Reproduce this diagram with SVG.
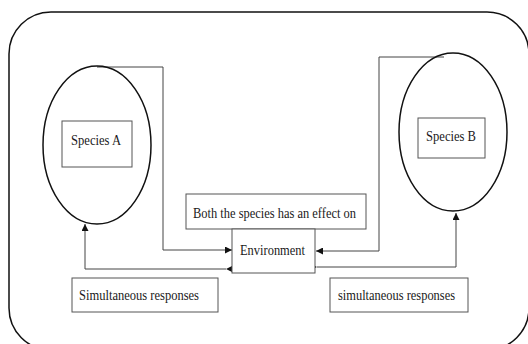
<svg xmlns="http://www.w3.org/2000/svg" width="528" height="344" viewBox="0 0 528 344">
<style>
.frame{fill:none;stroke:#111;stroke-width:1.5}
.ell{fill:none;stroke:#111;stroke-width:1.5}
.box{fill:#fff;stroke:#555;stroke-width:1}
.con{fill:none;stroke:#444;stroke-width:1}
.t{font-family:'Liberation Serif','Times New Roman',serif;font-size:15px;fill:#1a1a1a}
</style>
<defs>
<marker id="ah" viewBox="0 0 10 10" refX="10" refY="5" markerWidth="7" markerHeight="7" orient="auto" markerUnits="userSpaceOnUse">
<path d="M0,0 L10,5 L0,10 Z" fill="#111"/>
</marker>
</defs>
<rect class="frame" x="9" y="12" width="520" height="338" rx="42" ry="42"/>
<g id="connectors">
<path class="con" d="M97,67 H163 V250 H232" marker-end="url(#ah)"/>
<path class="con" d="M444,57 H379 V251 H316" marker-end="url(#ah)"/>
<path class="con" d="M226,269 H85 V224" marker-start="url(#ah)" marker-end="url(#ah)"/>
<path class="con" d="M317,267 H456 V213" marker-start="url(#ah)" marker-end="url(#ah)"/>
</g>
<g id="speciesA">
<ellipse class="ell" cx="97" cy="145" rx="54" ry="79"/>
<rect class="box" x="62" y="121" width="70" height="46"/>
<text class="t" x="71" y="145" textLength="50" lengthAdjust="spacingAndGlyphs">Species A</text>
</g>
<g id="speciesB">
<ellipse class="ell" cx="453" cy="132" rx="54" ry="79"/>
<rect class="box" x="418" y="118" width="67" height="40"/>
<text class="t" x="426" y="141" textLength="50" lengthAdjust="spacingAndGlyphs">Species B</text>
</g>
<g id="effect">
<rect class="box" x="186" y="194" width="180" height="35"/>
<text class="t" x="193" y="218" textLength="163" lengthAdjust="spacingAndGlyphs">Both the species has an effect on</text>
</g>
<g id="environment">
<rect class="box" x="232" y="229" width="83" height="44"/>
<text class="t" x="240" y="255" textLength="65" lengthAdjust="spacingAndGlyphs">Environment</text>
</g>
<g id="responsesA">
<rect class="box" x="72" y="278" width="146" height="34"/>
<text class="t" x="79" y="300" textLength="120" lengthAdjust="spacingAndGlyphs">Simultaneous responses</text>
</g>
<g id="responsesB">
<rect class="box" x="330" y="278" width="138" height="34"/>
<text class="t" x="338" y="300" textLength="117" lengthAdjust="spacingAndGlyphs">simultaneous responses</text>
</g>
</svg>
